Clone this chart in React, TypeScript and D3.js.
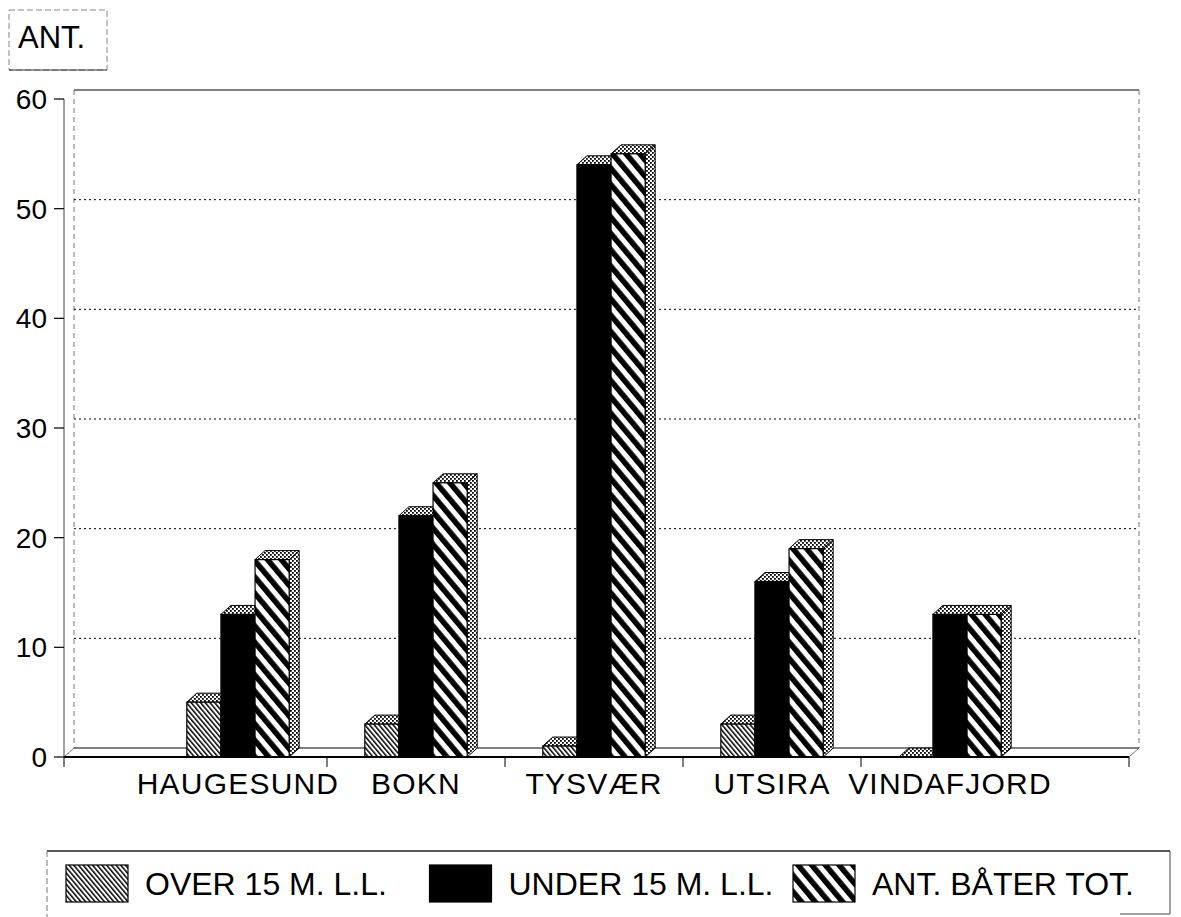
import React from 'react';
import * as d3 from 'd3';

// boats per municipality
const categories = ['HAUGESUND', 'BOKN', 'TYSVÆR', 'UTSIRA', 'VINDAFJORD'];
const over15 = [5, 3, 1, 3, 0];
const under15 = [13, 22, 54, 16, 13];
const totalBoats = [18, 25, 55, 19, 13];
const seriesNames = ['OVER 15 M. L.L.', 'UNDER 15 M. L.L.', 'ANT. BÅTER TOT.'];
const yTicks = [0, 10, 20, 30, 40, 50, 60];
const yTitle = 'ANT.';

const W = 1181, H = 917;
const font = '"Liberation Sans", Arial, Helvetica, sans-serif';
const DX = 10, DY = -9; // 3d depth

const fills = ['url(#fineHatch)', '#000', 'url(#wideHatch)'];

export default function App() {
  var y = d3.scaleLinear().domain([0, 60]).range([757, 99]);
  var x = d3.scaleBand().domain(categories).range([149, 1039]);
  var groupW = x.bandwidth() * 0.575;
  var xs = d3.scaleBand().domain(seriesNames).range([0, groupW]);
  var values = [over15, under15, totalBoats];

  var left = 64, right = 1129;
  var y0 = y(0);

  // bars, drawn left to right so front faces cover the side of the previous bar
  var bars: any[] = [];
  categories.forEach(function (c, ci) {
    var gx = x(c)! + x.bandwidth() / 2 - groupW / 2;
    seriesNames.forEach(function (s, si) {
      var v = values[si][ci];
      var x0 = gx + xs(s)!, x1 = x0 + xs.bandwidth();
      var yt = y(v);
      var side = [[x1, y0], [x1 + DX, y0 + DY], [x1 + DX, yt + DY], [x1, yt]];
      var top = [[x0, yt], [x0 + DX, yt + DY], [x1 + DX, yt + DY], [x1, yt]];
      bars.push(
        <g key={c + s}>
          <polygon points={side.join(' ')} fill="url(#stipple)" stroke="#000" strokeWidth={1} />
          <polygon points={top.join(' ')} fill="url(#stipple)" stroke="#000" strokeWidth={1} />
          {v > 0 && <rect x={x0} y={yt} width={x1 - x0} height={y0 - yt} fill={fills[si]} stroke="#000" strokeWidth={1.2} />}
        </g>
      );
    });
  });

  var legendX = d3.scaleLinear().domain([0, 1]).range([66, 429.5]);

  return (
    <svg width={W} height={H} style={{ position: 'absolute', left: 0, top: 0, background: '#fff' }} fontFamily={font}>
      <defs>
        <pattern id="fineHatch" patternUnits="userSpaceOnUse" width={3.6} height={10} patternTransform="rotate(-40)">
          <rect width={3.6} height={10} fill="#fff" />
          <rect width={1.5} height={10} fill="#000" />
        </pattern>
        <pattern id="wideHatch" patternUnits="userSpaceOnUse" width={10.5} height={10} patternTransform="rotate(-40)">
          <rect width={10.5} height={10} fill="#fff" />
          <rect width={5.5} height={10} fill="#000" />
        </pattern>
        <pattern id="stipple" patternUnits="userSpaceOnUse" width={4} height={4}>
          <rect width={4} height={4} fill="#fff" />
          <rect x={0} y={0} width={1.8} height={1.8} fill="#000" />
          <rect x={2} y={2} width={1.8} height={1.8} fill="#000" />
        </pattern>
      </defs>

      {/* title box */}
      <rect x={9} y={10} width={98} height={60} fill="none" stroke="#888" strokeWidth={1} strokeDasharray="6,3" />
      <line x1={9} x2={107} y1={70} y2={70} stroke="#333" strokeWidth={1.2} />
      <text x={18} y={48} fontSize={31} fill="#000">{yTitle}</text>

      {/* back wall */}
      <line x1={left + DX} x2={right + DX} y1={y(60) + DY} y2={y(60) + DY} stroke="#555" strokeWidth={1.5} />
      <line x1={left + DX} x2={left + DX} y1={y(60) + DY} y2={y0 + DY} stroke="#777" strokeWidth={1} strokeDasharray="5,4" />
      <line x1={right + DX} x2={right + DX} y1={y(60) + DY} y2={y0 + DY} stroke="#777" strokeWidth={1} strokeDasharray="5,4" />
      {yTicks.filter(function (t) { return t > 0 && t < 60; }).map(function (t) {
        return <line key={'g' + t} x1={left + DX} x2={right + DX} y1={y(t) + DY} y2={y(t) + DY} stroke="#000" strokeWidth={1} strokeDasharray="2,3" />;
      })}

      {/* floor */}
      <line x1={left + DX} x2={right + DX} y1={y0 + DY} y2={y0 + DY} stroke="#000" strokeWidth={1} />
      <line x1={left} x2={left + DX} y1={y0} y2={y0 + DY} stroke="#777" strokeWidth={1} />
      <line x1={right} x2={right + DX} y1={y0} y2={y0 + DY} stroke="#777" strokeWidth={1} />

      {/* y axis */}
      <line x1={left} x2={left} y1={y(60)} y2={y0} stroke="#444" strokeWidth={1} />
      {yTicks.map(function (t) {
        return (
          <g key={'y' + t}>
            <line x1={left - 10} x2={left} y1={y(t)} y2={y(t)} stroke="#000" strokeWidth={1.2} />
            <text x={47} y={y(t)} dy="0.36em" textAnchor="end" fontSize={28} fill="#000">{t}</text>
          </g>
        );
      })}

      {bars}

      {/* x axis */}
      <line x1={left} x2={right} y1={y0} y2={y0} stroke="#000" strokeWidth={1.8} />
      {[left, right].concat(categories.slice(1).map(function (c) { return x(c)!; })).map(function (tx, i) {
        return <line key={'xt' + i} x1={tx} x2={tx} y1={y0} y2={y0 + 10} stroke="#000" strokeWidth={1} />;
      })}
      {categories.map(function (c) {
        return <text key={'xl' + c} x={x(c)! + x.bandwidth() / 2} y={794} textAnchor="middle" fontSize={30} letterSpacing={1.2} fill="#000">{c}</text>;
      })}

      {/* legend */}
      <line x1={47} x2={1170} y1={851} y2={851} stroke="#222" strokeWidth={1.3} />
      <line x1={47} x2={47} y1={851} y2={917} stroke="#777" strokeWidth={1} strokeDasharray="6,3" />
      <line x1={1170} x2={1170} y1={851} y2={914} stroke="#444" strokeWidth={1} />
      <line x1={1120} x2={1170} y1={914} y2={914} stroke="#444" strokeWidth={1} />
      {seriesNames.map(function (s, i) {
        var lx = legendX(i);
        return (
          <g key={'lg' + s}>
            <rect x={lx} y={865} width={62} height={37} fill={fills[i]} stroke="#000" strokeWidth={1.2} />
            <text x={lx + 79} y={895} fontSize={32} fill="#000">{s}</text>
          </g>
        );
      })}
    </svg>
  );
}
